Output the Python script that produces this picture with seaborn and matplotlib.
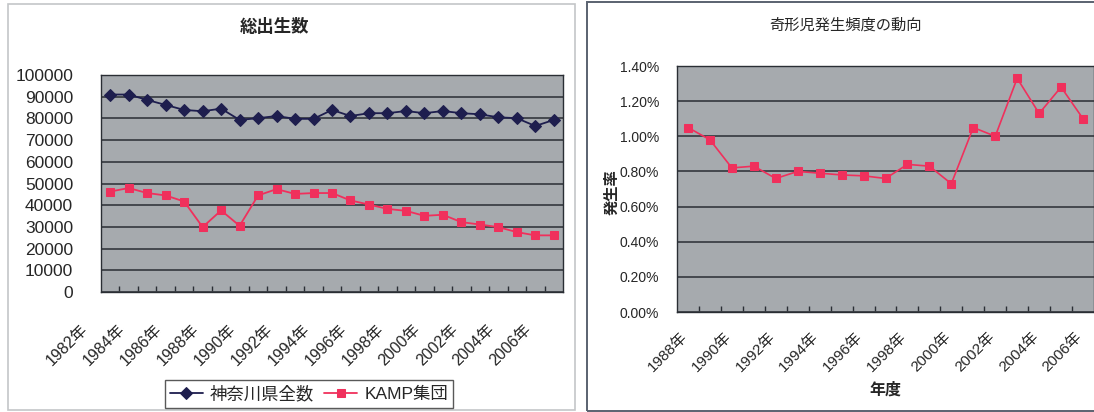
import numpy as np
import pandas as pd
import matplotlib
matplotlib.use("Agg")
import matplotlib.pyplot as plt
import matplotlib.transforms as mtransforms
from matplotlib.ticker import FuncFormatter, FixedLocator
from matplotlib.patches import Rectangle
import seaborn as sns

# --- data -------------------------------------------------------------
years_total = list(range(1982, 2007))
kanagawa_total = [91000, 91000, 88500, 86200, 83900, 83300, 84500, 79300, 80100, 81100,
                  79800, 79800, 83900, 81100, 82400, 82400, 83400, 82400, 83400, 82400,
                  81900, 80500, 80100, 76500, 79300]
kamp_total = [46300, 47900, 45600, 44500, 41700, 29900, 37600, 30500, 44500, 47400,
              45200, 45600, 45600, 42200, 40300, 38300, 37400, 35100, 35600, 32200,
              31100, 29900, 27600, 26100, 26100]

years_rate = list(range(1988, 2007))
malformation_rate = [1.05, 0.98, 0.82, 0.83, 0.76, 0.80, 0.79, 0.78, 0.775, 0.76,
                     0.84, 0.83, 0.73, 1.05, 1.00, 1.33, 1.13, 1.28, 1.10]

series_names = ["神奈川県全数", "KAMP集団"]
title_left = "総出生数"
title_right = "奇形児発生頻度の動向"
ylabel_right = "発生率"
xlabel_right = "年度"

# --- style ------------------------------------------------------------
sns.set_style("white")
plt.rcParams["font.family"] = ["Liberation Sans", "Noto Sans CJK JP"]

PLOT_BG = "#a6aaae"
GRID = "#3c4046"
NAVY = "#1e1e4e"
PINK = "#f0305c"

W, H = 1094, 412
fig = plt.figure(figsize=(W / 100, H / 100), dpi=100)


def px_axes(x0, y0, x1, y1):
    return fig.add_axes([x0 / W, 1 - y1 / H, (x1 - x0) / W, (y1 - y0) / H])


# panel frames
fig.patches.append(Rectangle((8 / W, 1 - 410 / H), (575 - 8) / W, (410 - 4) / H,
                             transform=fig.transFigure, fill=False,
                             edgecolor="#c4c6c8", linewidth=1.2))
fig.patches.append(Rectangle((587 / W, 1 - 411 / H), (1100 - 587) / W, (411 - 2) / H,
                             transform=fig.transFigure, fill=False,
                             edgecolor="#5a6270", linewidth=1.4))


def style_axes(ax, n, label_shift_px, fontsize, pad):
    ax.set_facecolor(PLOT_BG)
    for s in ax.spines.values():
        s.set_color("#2a2e34")
        s.set_linewidth(1.0)
    ax.set_xlim(-0.5, n - 0.5)
    ax.grid(axis="y", color=GRID, linewidth=1.3)
    ax.grid(axis="x", visible=False)
    ax.set_axisbelow(True)
    # category boundary ticks, drawn inward
    ax.xaxis.set_minor_locator(FixedLocator(np.arange(0.5, n - 1, 1.0)))
    ax.tick_params(axis="x", which="minor", direction="in", length=4,
                   width=1.0, color="#2a2e34", bottom=True)
    ax.tick_params(axis="x", which="major", length=0, pad=pad)
    ax.tick_params(axis="y", length=0)
    offset = mtransforms.ScaledTranslation(label_shift_px / 100, 0, fig.dpi_scale_trans)
    for lab in ax.get_xticklabels():
        lab.set_rotation(45)
        lab.set_ha("right")
        lab.set_rotation_mode("anchor")
        lab.set_fontsize(fontsize)
        lab.set_transform(lab.get_transform() + offset)


# --- left chart: total births ----------------------------------------
axL = px_axes(101, 75, 563, 292)
df_total = pd.DataFrame({
    "idx": np.arange(len(years_total)),
    series_names[0]: kanagawa_total,
    series_names[1]: kamp_total,
})
sns.lineplot(data=df_total, x="idx", y=series_names[0], ax=axL, color=NAVY,
             marker="D", markersize=6, markeredgecolor=NAVY, linewidth=1.3,
             label=series_names[0], legend=False)
sns.lineplot(data=df_total, x="idx", y=series_names[1], ax=axL, color=PINK,
             marker="s", markersize=6, markeredgecolor=PINK, linewidth=1.3,
             label=series_names[1], legend=False)
axL.set_ylim(0, 100000)
axL.set_yticks(np.arange(0, 100001, 10000))
axL.yaxis.set_major_formatter(FuncFormatter(lambda v, p: f"{int(v)}"))
axL.tick_params(axis="y", labelsize=12.5, pad=20)
label_idx = np.arange(0, len(years_total), 2)
axL.set_xticks(label_idx)
axL.set_xticklabels([f"{years_total[i]}年" for i in label_idx])
axL.set_xlabel("")
axL.set_ylabel("")
style_axes(axL, len(years_total), -30, 11.5, 21)
fig.text(275 / W, 1 - 27 / H, title_left, ha="center", va="center",
         fontsize=12.5, fontweight="bold")

handles, labels = axL.get_legend_handles_labels()
leg = fig.legend(handles, labels, loc="center", ncol=2,
                 bbox_to_anchor=(309 / W, 1 - 394 / H), frameon=True,
                 fontsize=12.5, handlelength=1.9, handletextpad=0.4,
                 columnspacing=0.6, borderpad=0.3, fancybox=False)
leg.get_frame().set_edgecolor("#303030")
leg.get_frame().set_linewidth(1.0)

# --- right chart: malformation rate -----------------------------------
axR = px_axes(677, 66, 1094, 312)
df_rate = pd.DataFrame({"idx": np.arange(len(years_rate)), "rate": malformation_rate})
sns.lineplot(data=df_rate, x="idx", y="rate", ax=axR, color=PINK, marker="s",
             markersize=5.5, markeredgecolor=PINK, linewidth=1.2, legend=False)
axR.set_ylim(0, 1.4)
axR.set_yticks(np.arange(0, 1.41, 0.2))
axR.yaxis.set_major_formatter(FuncFormatter(lambda v, p: f"{v:.2f}%"))
axR.tick_params(axis="y", labelsize=10, pad=13)
label_idx_r = np.arange(0, len(years_rate), 2)
axR.set_xticks(label_idx_r)
axR.set_xticklabels([f"{years_rate[i]}年" for i in label_idx_r])
axR.set_xlabel("")
axR.set_ylabel("")
style_axes(axR, len(years_rate), -8, 11, 13)
fig.text(845 / W, 1 - 25 / H, title_right, ha="center", va="center", fontsize=11)
fig.text(612 / W, 1 - 192 / H, ylabel_right, ha="center", va="center",
         rotation=90, fontsize=11, fontweight="bold")
fig.text(885 / W, 1 - 390 / H, xlabel_right, ha="center", va="center",
         fontsize=11.5, fontweight="bold")

fig.savefig("out.png", dpi=100, facecolor="white")
